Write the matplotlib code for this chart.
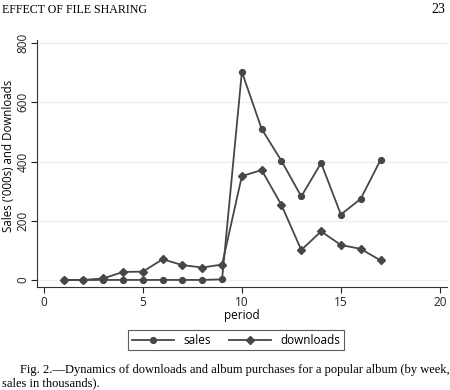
import numpy as np
import matplotlib
matplotlib.use("Agg")
import matplotlib.pyplot as plt

# weekly data
period = [1, 2, 3, 4, 5, 6, 7, 8, 9, 10, 11, 12, 13, 14, 15, 16, 17]
sales = [0, 0, 0, 0, 0, 0, 0, 0, 2, 703, 510, 402, 282, 395, 221, 274, 405]
downloads = [0, 0, 5, 27, 28, 70, 50, 42, 52, 351, 371, 253, 101, 164, 118, 105, 66]

xticks = [0, 5, 10, 15, 20]
yticks = [0, 200, 400, 600, 800]

plt.rcParams['font.family'] = ['Open Sans', 'DejaVu Sans']
col = '#474747'

fig = plt.figure(figsize=(4.5, 3.9), dpi=100)
ax = fig.add_axes([0.082, 0.264, 0.911, 0.633])

ax.plot(period, sales, color=col, lw=1.3, marker='o', ms=4.2, label='sales')
ax.plot(period, downloads, color=col, lw=1.3, marker='D', ms=4.2, label='downloads')

ax.set_xlim(-0.35, 20.35)
ax.set_ylim(-24, 810)
ax.set_xticks(xticks)
ax.set_yticks(yticks)
ax.set_yticklabels([str(v) for v in yticks], rotation=90, va='center')
ax.tick_params(labelsize=8.5, colors='#222222', length=4, width=0.8, pad=2.5)
ax.tick_params(axis='y', pad=1.2)
ax.grid(axis='y', color='#ececec', lw=0.9)
ax.set_axisbelow(True)
for s in ['top', 'right']:
    ax.spines[s].set_visible(False)
for s in ['left', 'bottom']:
    ax.spines[s].set_color('#333333')
    ax.spines[s].set_linewidth(0.8)

ax.set_xlabel('period', fontsize=8.5, labelpad=0)
ax.set_ylabel("Sales ('000s) and Downloads", fontsize=8.3)
ax.yaxis.set_label_coords(-0.053, 0.53)

leg = ax.legend(loc='upper center', ncol=2,
                fontsize=8.5, frameon=True, fancybox=False, handlelength=3.6,
                columnspacing=1.5, borderpad=0.3)
leg.set_bbox_to_anchor((0.525, 0.168), transform=fig.transFigure)
leg.get_frame().set_edgecolor('#333333')
leg.get_frame().set_linewidth(0.8)

serif = ['Liberation Serif', 'DejaVu Serif']
fig.text(0.005, 0.975, 'EFFECT OF FILE SHARING', fontsize=8.6, family=serif,
         va='center', ha='left')
fig.text(0.99, 0.975, '23', fontsize=10, family=serif, va='center', ha='right')
fig.text(0.045, 0.052, 'Fig. 2.\u2014Dynamics of downloads and album purchases for a popular album (by week,',
         fontsize=9, family=serif, va='center', ha='left')
fig.text(0.005, 0.018, 'sales in thousands).', fontsize=9, family=serif,
         va='center', ha='left')

fig.savefig('out.png', dpi=100)
